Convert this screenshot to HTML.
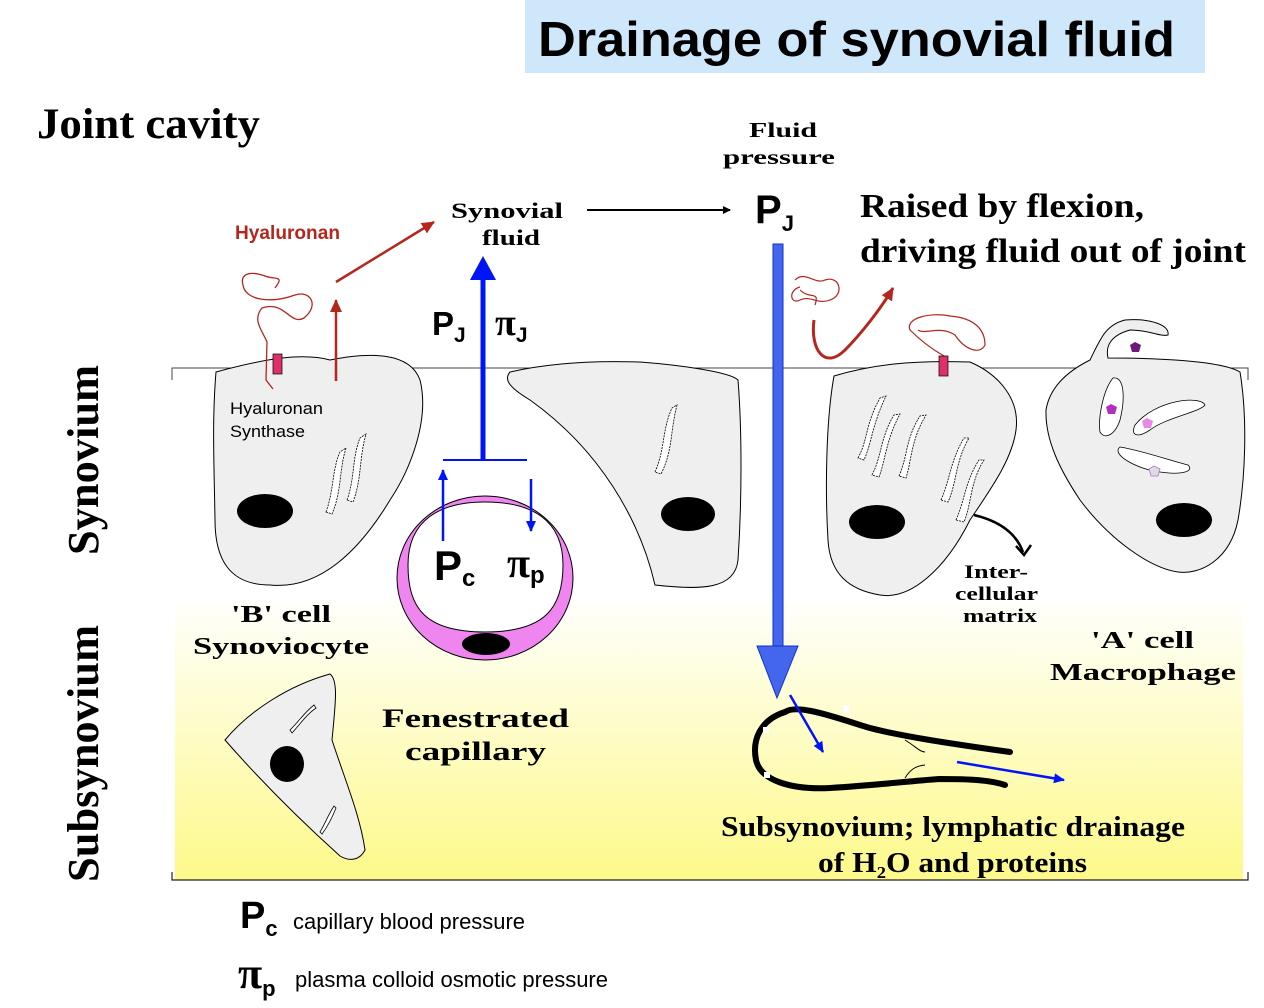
<!DOCTYPE html>
<html><head><meta charset="utf-8"><style>
html,body{margin:0;padding:0;background:#fff;}
svg{display:block;}
.serif{font-family:"Liberation Serif",serif;font-weight:bold;}
.sans{font-family:"Liberation Sans",sans-serif;font-weight:bold;}
</style></head><body>
<svg width="1264" height="1008" viewBox="0 0 1264 1008" xmlns="http://www.w3.org/2000/svg">
<defs>
<linearGradient id="yg" x1="0" y1="0" x2="0" y2="1">
<stop offset="0" stop-color="#ffffff"/><stop offset="1" stop-color="#fdf98a"/>
</linearGradient>
<marker id="ar" markerWidth="8" markerHeight="8" refX="7" refY="4" orient="auto" markerUnits="userSpaceOnUse"><path d="M0,0 L8,4 L0,8 Z" fill="#000"/></marker>
<marker id="rr" markerWidth="14" markerHeight="14" refX="12" refY="7" orient="auto" markerUnits="userSpaceOnUse"><path d="M0,1 L13,7 L0,13 Z" fill="#b5261e"/></marker>
<marker id="ba" markerWidth="12" markerHeight="12" refX="10" refY="6" orient="auto" markerUnits="userSpaceOnUse"><path d="M0,1 L11,6 L0,11 Z" fill="#0015f5"/></marker>
</defs>
<rect x="175" y="595" width="1068" height="285" fill="url(#yg)"/>
<rect x="525" y="0" width="680" height="73" fill="#cfe7fa"/>
<text x="538" y="56" class="sans" font-size="49" textLength="637" lengthAdjust="spacingAndGlyphs">Drainage of synovial fluid</text>
<text x="37" y="138" class="serif" font-size="43" textLength="223" lengthAdjust="spacingAndGlyphs">Joint cavity</text>
<text transform="translate(98,555) rotate(-90)" class="serif" font-size="44" textLength="190" lengthAdjust="spacingAndGlyphs">Synovium</text>
<text transform="translate(98,882) rotate(-90)" class="serif" font-size="44" textLength="257" lengthAdjust="spacingAndGlyphs">Subsynovium</text>
<path d="M172,380 V368 H1248 V380" fill="none" stroke="#444" stroke-width="1"/>
<path d="M172,872 V880 H1248 V872" fill="none" stroke="#222" stroke-width="1.2"/>

<path d="M216,372 C260,360 300,352 330,360 C370,352 410,352 420,380 C430,420 410,470 390,500 C360,550 320,590 270,585 C230,585 215,560 215,520 C214,460 212,420 216,372 Z" fill="#efefef" stroke="#000" stroke-width="1"/>
<ellipse cx="265" cy="511" rx="28" ry="17" fill="#000"/>
<path d="M326,512 C334,490 332,470 340,452 L346,448 C339,470 342,490 332,514 Z" fill="#fff" stroke="#000" stroke-width="0.8" stroke-dasharray="2,1"/>
<path d="M347,500 C355,478 352,458 360,438 L366,434 C359,458 362,478 353,502 Z" fill="#fff" stroke="#000" stroke-width="0.8" stroke-dasharray="2,1"/>
<text x="230" y="414" font-family="Liberation Sans, sans-serif" font-size="17" font-weight="bold" textLength="93" lengthAdjust="spacingAndGlyphs" style="font-weight:normal">Hyaluronan</text>
<text x="230" y="437" font-family="Liberation Sans, sans-serif" font-size="17" textLength="75" lengthAdjust="spacingAndGlyphs">Synthase</text>
<path d="M273,389 L266,380 L267,342 C262,330 252,320 262,308 C285,300 290,326 304,318 C320,305 310,290 295,295 C270,304 245,300 243,285 C240,275 248,270 265,276 C275,280 285,275 275,288" fill="none" stroke="#b5261e" stroke-width="1.3"/>
<rect x="273" y="354" width="9" height="20" fill="#e0306a" stroke="#000" stroke-width="0.7"/>
<line x1="336" y1="381" x2="336" y2="300" stroke="#b5261e" stroke-width="2.5" marker-end="url(#rr)"/>
<line x1="336" y1="282" x2="434" y2="222" stroke="#b5261e" stroke-width="2.5" marker-end="url(#rr)"/>
<text x="235" y="239" class="sans" font-size="19" fill="#b5261e" textLength="105" lengthAdjust="spacingAndGlyphs">Hyaluronan</text>
<text x="451" y="218" class="serif" font-size="22" textLength="112" lengthAdjust="spacingAndGlyphs">Synovial</text>
<text x="482" y="245" class="serif" font-size="22" textLength="58" lengthAdjust="spacingAndGlyphs">fluid</text>
<line x1="587" y1="210" x2="730" y2="210" stroke="#000" stroke-width="2" marker-end="url(#ar)"/>
<text x="749" y="137" class="serif" font-size="21" textLength="68" lengthAdjust="spacingAndGlyphs">Fluid</text>
<text x="723" y="164" class="serif" font-size="21" textLength="112" lengthAdjust="spacingAndGlyphs">pressure</text>
<text x="755" y="223" class="sans" font-size="40">P<tspan font-size="22" dy="8">J</tspan></text>
<text x="860" y="217" class="serif" font-size="34" textLength="284" lengthAdjust="spacingAndGlyphs">Raised by flexion,</text>
<text x="860" y="262" class="serif" font-size="34" textLength="386" lengthAdjust="spacingAndGlyphs">driving fluid out of joint</text>

<line x1="483" y1="460" x2="483" y2="278" stroke="#0015f5" stroke-width="5"/>
<path d="M470,280 L483,256 L496,280 Z" fill="#0015f5"/>
<line x1="443" y1="460" x2="527" y2="460" stroke="#0015f5" stroke-width="2"/>
<text x="432" y="335" class="sans" font-size="33">P<tspan font-size="21" dy="7">J</tspan></text>
<text x="495" y="335" class="serif" font-size="38">π<tspan class="sans" font-size="21" dy="7">J</tspan></text>

<path d="M510,372 C540,365 580,360 640,362 C680,365 730,372 738,380 C742,430 742,500 738,560 C735,590 700,590 655,585 C640,520 600,450 530,400 C505,385 505,378 510,372 Z" fill="#efefef" stroke="#000" stroke-width="1"/>
<ellipse cx="688" cy="514" rx="27" ry="17" fill="#000"/>
<path d="M655,472 C665,450 662,430 672,408 L677,405 C670,432 673,450 661,474 Z" fill="#fff" stroke="#000" stroke-width="0.8" stroke-dasharray="2,1"/>

<ellipse cx="485" cy="578" rx="88" ry="82" fill="#ef86ef" stroke="#000" stroke-width="1"/>
<path d="M408,565 C408,520 440,502 485,502 C532,502 563,520 563,565 C563,608 545,632 485,632 C425,632 408,608 408,565 Z" fill="#fff" stroke="#000" stroke-width="1"/>
<ellipse cx="486" cy="644" rx="24" ry="11" fill="#000"/>
<line x1="443" y1="541" x2="443" y2="470" stroke="#0015f5" stroke-width="2.5" marker-end="url(#ba)"/>
<line x1="531" y1="479" x2="531" y2="531" stroke="#0015f5" stroke-width="2.5" marker-end="url(#ba)"/>
<text x="434" y="580" class="sans" font-size="42">P<tspan font-size="24" dy="6">c</tspan></text>
<text x="507" y="577" class="serif" font-size="42">π<tspan class="sans" font-size="24" dy="6">p</tspan></text>

<text x="231" y="622" class="serif" font-size="24" textLength="100" lengthAdjust="spacingAndGlyphs">'B' cell</text>
<text x="193" y="654" class="serif" font-size="24" textLength="176" lengthAdjust="spacingAndGlyphs">Synoviocyte</text>
<text x="382" y="727" class="serif" font-size="26" textLength="187" lengthAdjust="spacingAndGlyphs">Fenestrated</text>
<text x="405" y="760" class="serif" font-size="26" textLength="141" lengthAdjust="spacingAndGlyphs">capillary</text>

<path d="M225,740 C250,710 290,685 330,674 C338,680 336,700 332,740 C345,780 360,815 365,850 C360,860 350,862 340,856 C300,820 260,780 225,740 Z" fill="#efefef" stroke="#000" stroke-width="1"/>
<ellipse cx="287" cy="764" rx="17" ry="18" fill="#000"/>
<path d="M290,730 C300,720 305,712 314,705 L316,708 C306,715 302,722 292,733 Z" fill="#fff" stroke="#000" stroke-width="0.8"/>
<path d="M320,832 C326,822 328,815 334,806 L336,808 C332,818 328,826 322,834 Z" fill="#fff" stroke="#000" stroke-width="0.8"/>

<rect x="773" y="244" width="10" height="404" fill="#4466ee" stroke="#1133cc" stroke-width="1"/>
<path d="M757,646 L798,646 L777,698 Z" fill="#4466ee" stroke="#1133cc" stroke-width="1"/>

<path d="M795,280 C805,270 815,285 825,280 C840,275 845,295 830,300 C818,305 810,295 800,300 C790,305 788,290 800,287 M800,290 C810,300 820,290 815,305" fill="none" stroke="#b5261e" stroke-width="1.2"/>
<path d="M814,320 C810,350 825,370 845,350 C860,335 880,310 893,288" fill="none" stroke="#b5261e" stroke-width="3" marker-end="url(#rr)"/>
<path d="M953,384 L944,378 L944,356 C930,348 920,340 910,330 C905,318 930,312 950,316 C975,318 985,330 985,345 C980,355 965,350 955,335 C940,325 925,335 918,330" fill="none" stroke="#b5261e" stroke-width="1.2"/>

<path d="M834,376 C870,365 910,360 970,362 C1000,375 1020,400 1016,430 C1012,460 990,490 970,520 C945,570 910,600 880,595 C850,590 830,575 828,540 C825,490 826,420 834,376 Z" fill="#efefef" stroke="#000" stroke-width="1"/>
<rect x="939" y="356" width="9" height="20" fill="#e0306a" stroke="#000" stroke-width="0.7"/>
<ellipse cx="877" cy="522" rx="28" ry="17" fill="#000"/>
<g fill="#fff" stroke="#000" stroke-width="0.8" stroke-dasharray="2,1">
<path d="M858,458 C868,440 865,425 880,398 L886,396 C872,425 872,442 864,460 Z"/>
<path d="M872,475 C882,456 880,438 894,415 L900,414 C886,440 886,458 879,477 Z"/>
<path d="M899,476 C908,456 905,440 920,416 L926,415 C911,440 912,458 906,478 Z"/>
<path d="M941,500 C950,480 950,462 964,438 L969,438 C955,462 957,482 948,502 Z"/>
<path d="M956,520 C965,500 965,482 979,460 L984,460 C970,482 972,502 964,522 Z"/>
</g>
<path d="M974,515 C995,520 1015,530 1023,552" fill="none" stroke="#000" stroke-width="2.5"/>
<path d="M1016,546 L1024,555 L1031,545" fill="none" stroke="#000" stroke-width="2.5"/>
<text x="964" y="578" class="serif" font-size="19" textLength="64" lengthAdjust="spacingAndGlyphs">Inter-</text>
<text x="955" y="600" class="serif" font-size="19" textLength="83" lengthAdjust="spacingAndGlyphs">cellular</text>
<text x="963" y="622" class="serif" font-size="19" textLength="74" lengthAdjust="spacingAndGlyphs">matrix</text>

<path d="M1090,360 C1100,340 1105,325 1125,320 C1150,318 1170,325 1168,335 C1160,337 1150,330 1130,330 C1112,335 1105,345 1108,358 C1150,358 1220,360 1240,372 C1248,420 1245,480 1238,520 C1230,560 1200,575 1178,572 C1150,568 1110,540 1080,500 C1060,470 1045,440 1046,410 C1050,385 1070,370 1090,360 Z" fill="#efefef" stroke="#000" stroke-width="1"/>
<path d="M1113,378 C1125,376 1125,400 1120,420 C1115,435 1105,440 1100,432 C1098,418 1103,390 1113,378 Z" fill="#fff" stroke="#000" stroke-width="0.8"/>
<path d="M1135,425 C1155,400 1200,395 1205,405 C1200,412 1165,418 1150,430 C1138,438 1130,436 1135,425 Z" fill="#fff" stroke="#000" stroke-width="0.8"/>
<path d="M1120,447 C1140,450 1175,462 1188,465 C1195,472 1180,475 1160,472 C1140,470 1110,455 1120,447 Z" fill="#fff" stroke="#000" stroke-width="0.8"/>
<polygon points="1135,342 1141,345 1139,352 1132,352 1130,345" fill="#6b1a7a"/>
<polygon points="1111,404 1117,407 1115,414 1108,414 1106,407" fill="#b030c0"/>
<polygon points="1147,418 1153,421 1151,428 1144,428 1142,421" fill="#ea88ea"/>
<polygon points="1154,466 1160,469 1158,476 1151,476 1149,469" fill="#ddd" stroke="#b070e0" stroke-width="0.8"/>
<ellipse cx="1184" cy="520" rx="28" ry="17" fill="#000"/>
<text x="1091" y="648" class="serif" font-size="24" textLength="103" lengthAdjust="spacingAndGlyphs">'A' cell</text>
<text x="1050" y="680" class="serif" font-size="24" textLength="186" lengthAdjust="spacingAndGlyphs">Macrophage</text>

<path d="M1010,752 C960,745 890,735 860,725 C820,712 795,705 785,712 C760,720 752,740 756,760 C760,780 790,790 830,788 C880,785 920,780 940,779 C970,779 990,780 1005,785" fill="none" stroke="#000" stroke-width="6" stroke-linecap="round"/>
<g fill="#fff"><rect x="843" y="705" width="6" height="8"/><rect x="763" y="727" width="6" height="6"/><rect x="764" y="772" width="6" height="6"/></g>
<path d="M905,740 C915,746 920,752 925,752" fill="none" stroke="#000" stroke-width="1"/>
<path d="M905,778 C910,770 915,766 925,765" fill="none" stroke="#000" stroke-width="1"/>
<line x1="790" y1="695" x2="823" y2="752" stroke="#0015f5" stroke-width="2.5" marker-end="url(#ba)"/>
<line x1="957" y1="762" x2="1064" y2="780" stroke="#0015f5" stroke-width="2.5" marker-end="url(#ba)"/>
<text x="721" y="836" class="serif" font-size="29" textLength="464" lengthAdjust="spacingAndGlyphs">Subsynovium; lymphatic drainage</text>
<text x="818" y="872" class="serif" font-size="29" textLength="269" lengthAdjust="spacingAndGlyphs">of H<tspan font-size="17" dy="6">2</tspan><tspan dy="-6">O and proteins</tspan></text>

<text x="240" y="928" class="sans" font-size="38">P<tspan font-size="22" dy="8">c</tspan></text>
<text x="293" y="929" font-family="Liberation Sans, sans-serif" font-size="22" textLength="232" lengthAdjust="spacingAndGlyphs">capillary blood pressure</text>
<text x="238" y="988" class="serif" font-size="44">π<tspan class="sans" font-size="22" dy="8">p</tspan></text>
<text x="295" y="987" font-family="Liberation Sans, sans-serif" font-size="22" textLength="313" lengthAdjust="spacingAndGlyphs">plasma colloid osmotic pressure</text>
</svg>
</body></html>
